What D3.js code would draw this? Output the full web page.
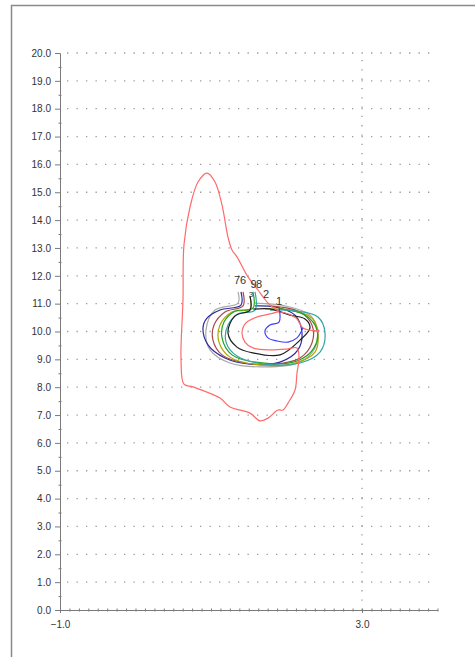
<!DOCTYPE html>
<html>
<head>
<meta charset="utf-8">
<script src="https://cdn.jsdelivr.net/npm/d3@7"></script>
<style>
  body { margin: 0; background: #fff; }
  svg { display: block; font-family: "Liberation Sans", Arial, sans-serif; }
</style>
</head>
<body>
<svg id="chart" width="475" height="657"></svg>
<script>
// axis ticks
let yTicks = d3.range(0, 21, 1);
let yMinor = d3.range(0.5, 20, 1);
let xTicks = [-1, 3];
let xMinor = d3.range(-1, 4.001, 0.125);

// trajectories (x, y)
let path1 = [[1.901, 10.88], [1.901, 10.34], [1.781, 10.23], [1.715, 10.02], [1.755, 9.77],
    [1.874, 9.66], [2.020, 9.62], [2.139, 9.77], [2.192, 9.98], [2.219, 10.13]];
let path2 = [[1.914, 10.70], [1.781, 10.95], [1.689, 11.24], [1.623, 11.49], [1.490, 11.96],
    [1.344, 12.68], [1.278, 12.93], [1.225, 13.39], [1.146, 14.54], [1.053, 15.37],
    [0.947, 15.69], [0.828, 15.37], [0.722, 14.47], [0.642, 13.11], [0.629, 11.13],
    [0.603, 8.98], [0.642, 8.11], [0.762, 8.01], [1.119, 7.61], [1.252, 7.29],
    [1.517, 7.07], [1.649, 6.79], [1.755, 6.89], [1.887, 7.18], [1.954, 7.18],
    [2.020, 7.43], [2.113, 7.90], [2.139, 8.51], [2.166, 9.05], [2.139, 9.41],
    [2.007, 9.37], [1.781, 9.34], [1.556, 9.41], [1.450, 9.62], [1.411, 9.98],
    [1.464, 10.31], [1.609, 10.52], [1.781, 10.63], [1.914, 10.70], [2.126, 10.48],
    [2.219, 10.13], [2.417, 10.02]];
let path3 = [[1.517, 11.27], [1.517, 10.77], [1.318, 10.56], [1.225, 9.95], [1.344, 9.44],
    [1.556, 9.23], [1.914, 9.16], [2.179, 9.69], [2.311, 10.13], [2.245, 10.45],
    [2.046, 10.59], [1.781, 10.81], [1.560, 10.80]];
let path4 = [[1.517, 11.24], [1.517, 10.81], [1.278, 10.70], [1.119, 10.23], [1.106, 9.62],
    [1.252, 9.08], [1.649, 8.80], [2.113, 8.87], [2.377, 9.26], [2.417, 9.87],
    [2.338, 10.48], [2.046, 10.77], [1.715, 10.81]];
let path5 = [[1.424, 11.42], [1.424, 10.92], [1.185, 10.70], [1.040, 10.23], [1.026, 9.69],
    [1.146, 9.16], [1.450, 8.87], [1.848, 8.83], [2.179, 9.05], [2.338, 9.59],
    [2.338, 10.23], [2.179, 10.70], [1.781, 10.92]];
let path6 = [[1.397, 11.42], [1.397, 10.95], [1.119, 10.77], [0.947, 10.48], [0.894, 10.13],
    [0.960, 9.52], [1.185, 9.05], [1.517, 8.83], [1.914, 8.90], [2.152, 9.34],
    [2.205, 9.95], [2.113, 10.59], [1.848, 10.88], [1.583, 10.92]];
let path7 = [[1.358, 11.42], [1.358, 11.02], [1.053, 10.77], [0.934, 10.05], [0.987, 9.34],
    [1.252, 8.87], [1.715, 8.73], [2.179, 8.90], [2.377, 9.41], [2.417, 9.98],
    [2.311, 10.59], [1.980, 10.92], [1.583, 11.02]];
let path8 = [[1.583, 11.42], [1.583, 10.77], [1.358, 10.63], [1.225, 10.23], [1.199, 9.62],
    [1.344, 9.12], [1.715, 8.83], [2.179, 8.87], [2.444, 9.26], [2.510, 9.95],
    [2.417, 10.52], [2.113, 10.74], [1.781, 10.77]];
let path9 = [[1.556, 11.42], [1.556, 10.84], [1.318, 10.73], [1.172, 10.34], [1.146, 9.77],
    [1.278, 9.16], [1.675, 8.87], [2.139, 8.94], [2.364, 9.41], [2.404, 10.05],
    [2.245, 10.59], [1.914, 10.81]];

let paths = [path1, path2, path3, path4, path5, path6, path7, path8, path9];

// labels at the start of the trajectories (hidden ones overlap others)
let labelText = ["1", "2", "3", "7", "6", "9", "8"];
let labelX = [1.901, 1.728, 1.530, 1.344, 1.424, 1.563, 1.636];
let labelY = [10.95, 11.20, 11.25, 11.71, 11.71, 11.56, 11.56];

let colors = ["#3c3cff", "#ff6a6a", "#202020", "#a8a800", "#a84848",
    "#2b2ba0", "#a8a8a8", "#33a3a3", "#22a022"];

let svg = d3.select("#chart");
let x = d3.scaleLinear().domain([-1, 4]).range([60, 437.5]);
let y = d3.scaleLinear().domain([0, 20]).range([610, 53]);

// frame
svg.append("path")
    .attr("d", "M11.5,657 V5.5 H475")
    .attr("fill", "none")
    .attr("stroke", "#8a8a8a")
    .attr("stroke-width", 1.5);

// dotted grid
svg.append("g").selectAll("line")
    .data(yTicks.filter(d => d > 0))
    .enter().append("line")
    .attr("x1", 67).attr("x2", 430)
    .attr("y1", d => y(d)).attr("y2", d => y(d))
    .attr("stroke", "#9a9a9a")
    .attr("stroke-width", 1.3)
    .attr("stroke-dasharray", "1.3,8.2");

svg.append("line")
    .attr("x1", x(3)).attr("x2", x(3))
    .attr("y1", y(0)).attr("y2", y(20))
    .attr("stroke", "#9a9a9a")
    .attr("stroke-width", 1.3)
    .attr("stroke-dasharray", "1.3,8");

// axes
let yAxis = d3.axisLeft(y).tickValues(yTicks).tickSize(5).tickPadding(4)
    .tickFormat(d3.format(".1f"));
let gy = svg.append("g").attr("transform", "translate(60,0)").call(yAxis);
let gym = svg.append("g").attr("transform", "translate(61.5,0)")
    .call(d3.axisLeft(y).tickValues(yMinor).tickSize(3).tickFormat(""));
gym.select(".domain").remove();

let xAxis = d3.axisBottom(x).tickValues(xTicks).tickSize(3).tickPadding(8)
    .tickFormat(d3.format(".1f"));
let gx = svg.append("g").attr("transform", "translate(0,610)").call(xAxis);
gx.select(".domain").attr("d", "M60,0.5H438");
let gxm = svg.append("g").attr("transform", "translate(0,611.5)")
    .call(d3.axisTop(x).tickValues(xMinor).tickSize(3).tickFormat(""));
gxm.select(".domain").remove();

[gy, gym, gx, gxm].forEach(g => {
    g.selectAll(".domain, line").attr("stroke", "#7a7a7a");
    g.selectAll("text").attr("fill", "#333").style("font-size", "10px");
});

// trajectories
let line = d3.line()
    .x(d => x(d[0]))
    .y(d => y(d[1]))
    .curve(d3.curveCatmullRom.alpha(0.5));

let order = [6, 5, 4, 3, 8, 7, 2, 1, 0];
svg.append("g").selectAll("path")
    .data(order)
    .enter().append("path")
    .attr("d", i => line(paths[i]))
    .attr("fill", "none")
    .attr("stroke", i => colors[i])
    .attr("stroke-width", 1.2);

let last = path2[path2.length - 1];
svg.append("circle")
    .attr("cx", x(last[0])).attr("cy", y(last[1]))
    .attr("r", 1.6)
    .attr("fill", colors[1]);

// labels
svg.append("g").selectAll("text")
    .data(labelText)
    .enter().append("text")
    .attr("x", (d, i) => x(labelX[i]))
    .attr("y", (d, i) => y(labelY[i]))
    .attr("text-anchor", "middle")
    .attr("fill", "#333")
    .style("font-size", d => d === "3" ? "8px" : "11px")
    .text(d => d);
</script>
</body>
</html>
